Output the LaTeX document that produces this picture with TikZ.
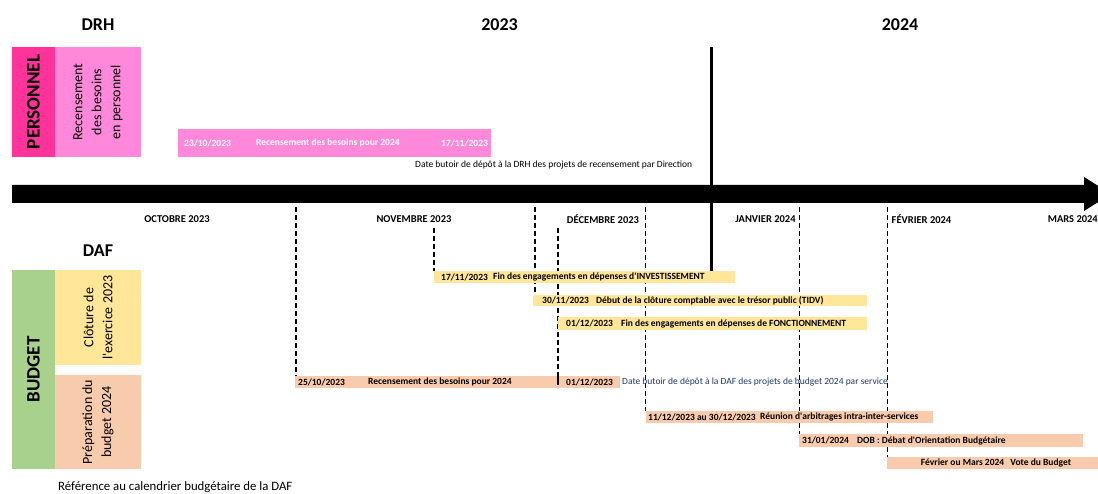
\documentclass[tikz,border=0pt]{standalone}
\usepackage{fontspec}
\setmainfont{Carlito}
\definecolor{pdeep}{HTML}{FF3399}
\definecolor{plight}{HTML}{FF88DA}
\definecolor{yel}{HTML}{FFE699}
\definecolor{sal}{HTML}{F8CBAD}
\definecolor{grn}{HTML}{A9D18E}
\definecolor{navy}{HTML}{1F3864}
\begin{document}
\begin{tikzpicture}[x=1pt,y=-1pt,
  box/.style={inner sep=0pt, outer sep=0pt, anchor=north west},
  title/.style={inner sep=0pt, font=\fontsize{18}{20}\selectfont\bfseries},
  month/.style={inner sep=0pt, font=\fontsize{10.5}{12}\selectfont\bfseries},
  bartxt/.style={inner sep=0pt, anchor=west, font=\fontsize{9.5}{11}\selectfont\bfseries},
  note/.style={inner sep=0pt, anchor=west, font=\fontsize{9.5}{11}\selectfont},
  side/.style={inner sep=0pt, rotate=90, align=center, font=\fontsize{14}{19}\selectfont},
  big/.style={inner sep=0pt, rotate=90, font=\fontsize{19}{21}\selectfont\bfseries},
  dashline/.style={line width=1.8pt, dash pattern=on 5pt off 3pt},
]
\useasboundingbox (0,0) rectangle (1098,494);

% titles
\node[title] (tdrh) at (98,25) {DRH};
\node[title] (t23) at (499.5,25) {2023};
\node[title] (t24) at (900,25) {2024};
\node[title] (tdaf) at (98,251) {DAF};

% PERSONNEL block
\node[box, fill=pdeep, minimum width=43pt, minimum height=110pt] (pers) at (12,47) {};
\node[big] at (pers.center) {PERSONNEL};
\node[box, fill=plight, minimum width=86pt, minimum height=110pt] (persl) at (55,47) {};
\node[side] at (persl.center) {Recensement\\des besoins\\en personnel};

% BUDGET block
\node[box, fill=grn, minimum width=43pt, minimum height=199pt] (budg) at (12,270) {};
\node[big] at (budg.center) {BUDGET};
\node[box, fill=yel, minimum width=86pt, minimum height=95pt] (clot) at (55,270) {};
\node[side] at (clot.center) {Clôture de\\l\textquotesingle exercice 2023};
\node[box, fill=sal, minimum width=86pt, minimum height=94pt] (prep) at (55,375) {};
\node[side] at (prep.center) {Préparation du\\budget 2024};

% timeline arrow
\begin{scope}
\clip (0,0) rectangle (1098,494);
\fill (12,185) -- (1084,185) -- (1084,177) -- (1111,194) -- (1084,211) -- (1084,203) -- (12,203) -- cycle;
\end{scope}

% months
\node[month] (moct) at (177,219) {OCTOBRE 2023};
\node[month] (mnov) at (414,219) {NOVEMBRE 2023};
\node[month] (mdec) at (603,219) {DÉCEMBRE 2023};
\node[month] (mjan) at (765.5,219) {JANVIER 2024};
\node[month] (mfev) at (921.5,219) {FÉVRIER 2024};
\node[month, anchor=east] (mmar) at (1098,219) {MARS 2024};

% coordinates for vertical lines
\coordinate (d1a) at (296,207);
\coordinate (d2a) at (434,228);
\coordinate (d3a) at (535,207);
\coordinate (d4a) at (558,228);
\coordinate (d5a) at (645.5,207);
\coordinate (d6a) at (799.5,207);
\coordinate (d7a) at (887.5,207);
\coordinate (sa) at (711.5,47);

% pink bar
\node[box, fill=plight, minimum width=313pt, minimum height=28pt] (pbar) at (178,129) {};
\node[bartxt, text=white] at (184,143) {23/10/2023};
\node[bartxt, text=white] at (256,143) {Recensement des besoins pour 2024};
\node[bartxt, text=white] at (441,143) {17/11/2023};
\node[note] (ndrh) at (415,165) {Date butoir de dépôt à la DRH des projets de recensement par Direction};

% bar positions (tops) for dashed lines
\coordinate (b25) at (296,376);
\coordinate (b17) at (434,271);
\coordinate (b30) at (535,295);
\coordinate (b01) at (558,388);
\coordinate (b11) at (645.5,411);
\coordinate (b31) at (799.5,434);
\coordinate (bfe) at (887.5,457);

% dashed lines (behind bars)
\draw[dashline] (d1a) -- (b25);
\draw[dashline] (d2a) -- (b17);
\draw[dashline] (d3a) -- (b30);
\draw[dashline] (d4a) -- (b01);
\draw[dashline] (d5a) -- (b11);
\draw[dashline] (d6a) -- (b31);
\draw[dashline] (d7a) -- (bfe);

% yellow bars
\node[box, fill=yel, minimum width=301pt, minimum height=12.5pt] (y17) at (434,271) {};
\node[bartxt] at (441,277.2) {17/11/2023};
\node[bartxt] at (493,277.2) {Fin des engagements en dépenses d\textquotesingle INVESTISSEMENT};
\node[box, fill=yel, minimum width=334pt, minimum height=11.5pt] (y30) at (533,295) {};
\node[bartxt] at (542,300.7) {30/11/2023};
\node[bartxt] at (596,300.7) {Début de la clôture comptable avec le trésor public (TIDV)};
\node[box, fill=yel, minimum width=309pt, minimum height=13pt] (y01) at (558,317) {};
\node[bartxt] at (566,323.5) {01/12/2023};
\node[bartxt] at (621,323.5) {Fin des engagements en dépenses de FONCTIONNEMENT};

% thick solid line (2023/2024)
\draw[line width=2.6pt] (sa) -- (y17.north -| sa);

% salmon bars
\node[box, fill=sal, minimum width=325pt, minimum height=12pt] (s25) at (295,376) {};
\node[bartxt] at (298,382) {25/10/2023};
\node[bartxt] at (368,382) {Recensement des besoins pour 2024};
\node[bartxt] at (566,382) {01/12/2023};
\draw[line width=1.8pt] (558,376) -- (558,385);
\node[note, text=navy] (ndaf) at (622,382) {Date butoir de dépôt à la DAF des projets de budget 2024 par service};
\node[box, fill=sal, minimum width=287pt, minimum height=12pt] (s11) at (646,411) {};
\node[bartxt] at (648,417) {11/12/2023 au 30/12/2023};
\node[bartxt] at (760,417) {Réunion d\textquotesingle arbitrages intra-inter-services};
\node[box, fill=sal, minimum width=284pt, minimum height=13pt] (s31) at (799,434) {};
\node[bartxt] at (802,440.5) {31/01/2024};
\node[bartxt] at (857,440.5) {DOB : Débat d\textquotesingle Orientation Budgétaire};
\node[box, fill=sal, minimum width=211pt, minimum height=12pt] (sfe) at (887,457) {};
\node[bartxt, anchor=center] at (996,463) {Février ou Mars 2024\hspace{4pt} Vote du Budget};

% footnote
\node[inner sep=0pt, anchor=base west, font=\fontsize{12.8}{15}\selectfont] (ref) at (58,490.5) {Référence au calendrier budgétaire de la DAF};
\end{tikzpicture}
\end{document}
